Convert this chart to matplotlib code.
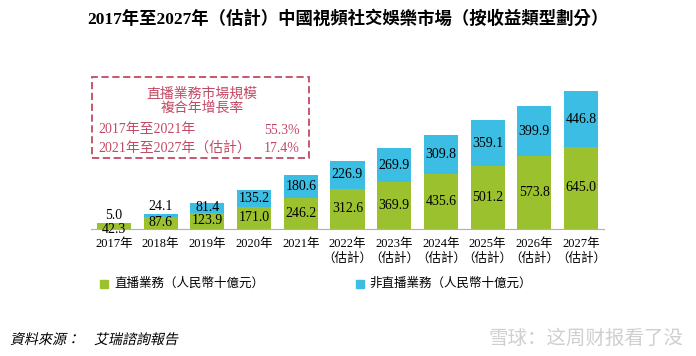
import matplotlib.pyplot as plt
from matplotlib.patches import Rectangle, PathPatch
from matplotlib.textpath import TextPath
from matplotlib.font_manager import FontProperties
from matplotlib.transforms import Affine2D, IdentityTransform

plt.rcParams["font.family"] = ["Liberation Serif", "Noto Sans CJK TC"]

# 數據
years = ["2017年", "2018年", "2019年", "2020年", "2021年", "2022年\n（估計）", "2023年\n（估計）",
         "2024年\n（估計）", "2025年\n（估計）", "2026年\n（估計）", "2027年\n（估計）"]
live = [42.3, 87.6, 123.9, 171.0, 246.2, 312.6, 369.9, 435.6, 501.2, 573.8, 645.0]
non_live = [5.0, 24.1, 81.4, 135.2, 180.6, 226.9, 269.9, 309.8, 359.1, 399.9, 446.8]

green = "#9cc12e"
blue = "#3cbde4"
red = "#c24a64"

W, H = 696, 356


def fx(px):
    return px / W


def fy(py):
    return 1 - py / H


fig = plt.figure(figsize=(W / 100, H / 100), dpi=100)
ax = fig.add_axes([fx(90.6), fy(228.5), (604.4 - 90.6) / W, 150.7 / H])

x = range(len(years))
ax.bar(x, live, width=0.73, color=green)
ax.bar(x, non_live, width=0.73, bottom=live, color=blue)

for i in x:
    g = live[i]
    b = non_live[i]
    gy = g / 2 if g >= 60 else g / 2 - 33
    by = g + b / 2 if b >= 50 else g + b + 60
    ax.text(i, gy, "%.1f" % g, ha="center", va="center", fontsize=10)
    ax.text(i, by, "%.1f" % b, ha="center", va="center", fontsize=10)

ax.set_xlim(-0.5, 10.5)
ax.set_ylim(0, 1200)
ax.set_xticks(list(x))
ax.set_xticklabels(years, fontsize=9, linespacing=1.2)
ax.tick_params(axis="x", length=0, pad=7)
ax.set_yticks([])
for s in ["top", "left", "right"]:
    ax.spines[s].set_visible(False)
ax.spines["bottom"].set_color("#b0b0b0")
ax.patch.set_alpha(0)

# 標題
fig.text(0.5, fy(19), "2017年至2027年（估計）中國視頻社交娛樂市場（按收益類型劃分）",
         ha="center", va="center", fontsize=12.5, fontweight="bold")

# 複合年增長率框
fig.patches.append(Rectangle((fx(92), fy(158)), (309 - 92) / W, (158 - 77) / H,
                             transform=fig.transFigure, fill=False, edgecolor=red,
                             linestyle=(0, (4, 2)), linewidth=1.3))
fig.text(fx(202), fy(94), "直播業務市場規模", ha="center", va="center", fontsize=10, color=red)
fig.text(fx(202), fy(108), "複合年增長率", ha="center", va="center", fontsize=10, color=red)
fig.text(fx(98), fy(130), "2017年至2021年", ha="left", va="center", fontsize=10, color=red)
fig.text(fx(300), fy(130), "55.3%", ha="right", va="center", fontsize=10, color=red)
fig.text(fx(98), fy(148), "2021年至2027年（估計）", ha="left", va="center", fontsize=10, color=red)
fig.text(fx(300), fy(148), "17.4%", ha="right", va="center", fontsize=10, color=red)

# 圖例
fig.patches.append(Rectangle((fx(100), fy(288)), 8 / W, 8 / H, transform=fig.transFigure,
                             color=green))
fig.text(fx(114), fy(284), "直播業務（人民幣十億元）", ha="left", va="center", fontsize=9)
fig.patches.append(Rectangle((fx(356), fy(288)), 8 / W, 8 / H, transform=fig.transFigure,
                             color=blue))
fig.text(fx(369), fy(284), "非直播業務（人民幣十億元）", ha="left", va="center", fontsize=9)

# 資料來源（斜體）
src = TextPath((0, 0), "資料來源：　艾瑞諮詢報告", size=14,
               prop=FontProperties(family="Noto Sans CJK TC"))
tr = Affine2D().skew_deg(12, 0).translate(10, H - 344)
fig.patches.append(PathPatch(tr.transform_path(src), transform=IdentityTransform(),
                             color="black", lw=0))

# 水印
fig.text(fx(683), fy(338), "雪球：这周财报看了没", ha="right", va="center", fontsize=14,
         color="#cfcfcf", family=["Noto Sans CJK SC"])

fig.savefig("out.png", dpi=100)
